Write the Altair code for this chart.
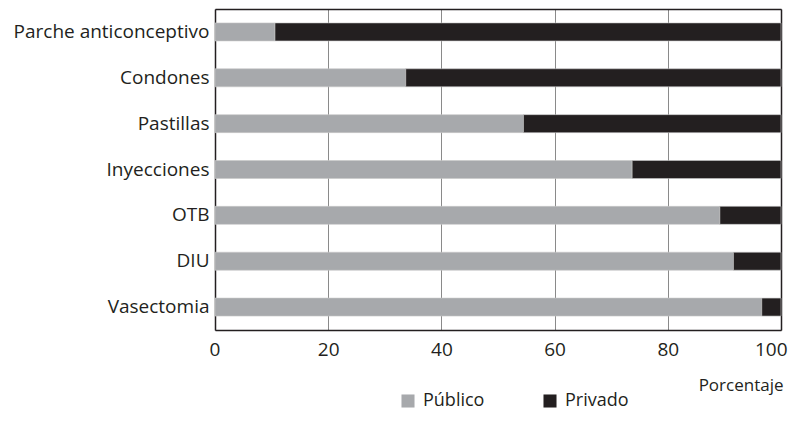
import altair as alt
import pandas as pd

metodos = ["Parche anticonceptivo", "Condones", "Pastillas", "Inyecciones", "OTB", "DIU", "Vasectomia"]
publico = [10.6, 33.7, 54.5, 73.7, 89.2, 91.6, 96.6]
privado = [89.4, 66.3, 45.5, 26.3, 10.8, 8.4, 3.4]
sectores = ["Público", "Privado"]
colores = ["#a7a9ac", "#231f20"]

rows = []
for m, pu, pr in zip(metodos, publico, privado):
    rows.append({"Método": m, "Sector": "Público", "Valor": pu, "orden": 0})
    rows.append({"Método": m, "Sector": "Privado", "Valor": pr, "orden": 1})
df = pd.DataFrame(rows)

FONT = "Open Sans"
INK = "#231f20"

xscale = alt.Scale(domain=[0, 100], nice=False)

bars = alt.Chart(df).mark_bar(size=18, stroke="#c8c8c8", strokeWidth=0.6).encode(
    y=alt.Y("Método:N", sort=metodos, title=None,
            axis=alt.Axis(domain=True, domainColor=INK, domainWidth=1.5, ticks=False,
                          labelPadding=6, labelFontSize=19,
                          labelColor=INK, labelFont=FONT, grid=False, labelLimit=300)),
    x=alt.X("Valor:Q", stack="zero", scale=xscale,
            title="Porcentaje",
            axis=alt.Axis(values=[0, 20, 40, 60, 80, 100], domain=True, domainColor=INK,
                          domainWidth=1.5, ticks=False,
                          labelPadding=10, labelFontSize=19, labelColor=INK, labelFont=FONT,
                          labelFlush=True, labelFlushOffset=6,
                          grid=True, gridColor="#8a8a8a", gridWidth=1,
                          titleFont=FONT, titleFontSize=17, titleFontWeight="normal",
                          titleColor=INK, titleAnchor="end", titleAlign="right",
                          titleX=568, titleY=60, titleBaseline="alphabetic")),
    color=alt.Color("Sector:N", scale=alt.Scale(domain=sectores, range=colores),
                    legend=alt.Legend(title=None, orient="none", direction="horizontal",
                                      legendX=184, legendY=383, symbolType="square",
                                      symbolSize=170, symbolStrokeWidth=0, labelFont=FONT,
                                      labelFontSize=18, labelColor=INK,
                                      columnPadding=56, labelOffset=6)),
    order=alt.Order("orden:Q"),
)

frame = alt.Chart(df).mark_bar(opacity=0).encode(
    y=alt.Y("Método:N", sort=metodos, title=None,
            axis=alt.Axis(orient="right", domain=True, domainColor=INK, domainWidth=1.5,
                          ticks=False, labels=False, grid=False)),
    x=alt.X("Valor:Q", stack="zero", scale=xscale, title=None,
            axis=alt.Axis(orient="top", domain=True, domainColor=INK, domainWidth=1.5,
                          ticks=False, labels=False, grid=False)),
)

chart = alt.layer(bars, frame).resolve_axis(x="independent", y="independent").properties(
    width=566, height=321,
    autosize=alt.AutoSizeParams(type="none"),
    padding={"left": 207, "top": 1, "right": 8, "bottom": 82},
).configure_view(
    strokeWidth=0
).configure_scale(
    bandPaddingInner=0.6
)

chart.save("out.html", embed_options={"renderer": "svg", "actions": False})
